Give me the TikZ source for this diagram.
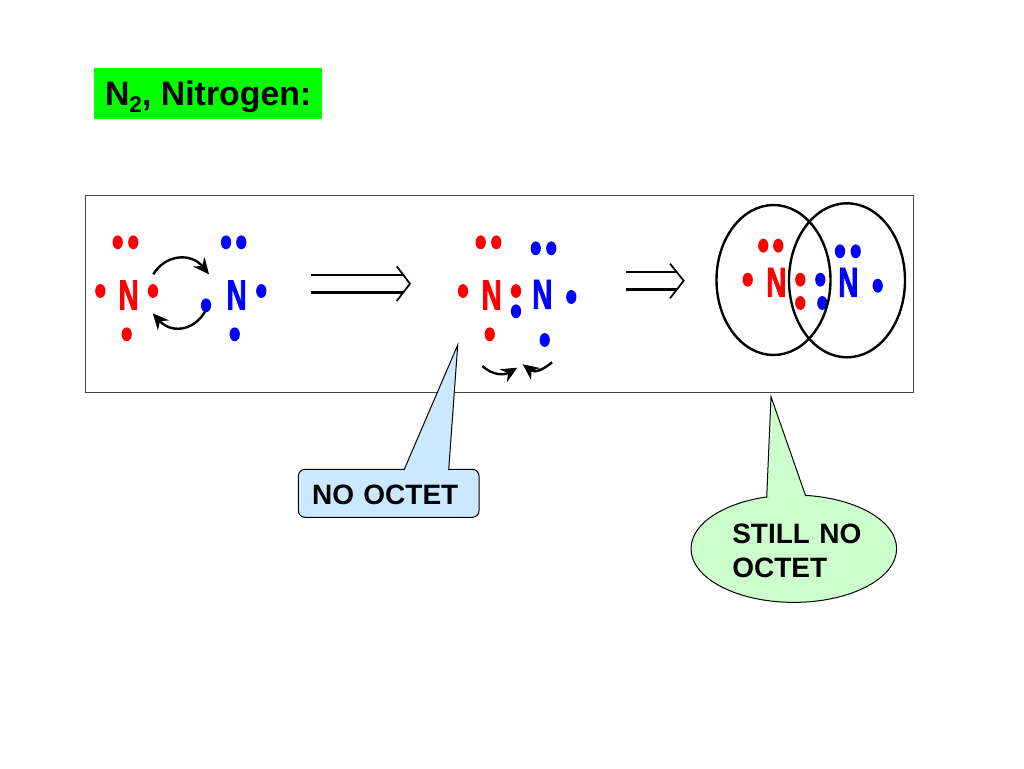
\documentclass[tikz,border=0pt]{standalone}
\usepackage{fontspec}
\setmainfont{Liberation Sans}
\newfontfamily\atomfont[FakeStretch=0.66,FakeBold=1.6]{Liberation Sans Bold}
\usepackage{xcolor}
\usetikzlibrary{arrows.meta,shapes.geometric}
\definecolor{noteblue}{HTML}{CCE8FF}
\definecolor{notegreen}{HTML}{CCFFCC}
\begin{document}
\begin{tikzpicture}[x=0.75pt,y=-0.75pt,
  rdot/.style={ellipse,fill=red,inner sep=0pt,outer sep=0pt,minimum width=7.7pt,minimum height=10.4pt},
  bdot/.style={ellipse,fill=blue,inner sep=0pt,outer sep=0pt,minimum width=7.7pt,minimum height=10.4pt},
  atom/.style={inner sep=0pt,font=\atomfont\fontsize{31.5}{31.5}\selectfont},
  note/.style={font=\bfseries\fontsize{21}{25.5}\selectfont,text=black,inner sep=0pt,align=left},
  shell/.style={ellipse,draw,line width=1.8pt,inner sep=0pt},
  arr/.style={-{Stealth[length=12pt,width=11pt]},line width=1.8pt},
  impl/.style={line width=1.8pt},
  barb/.style={line width=1.3pt},
  edge/.style={line width=0.75pt}]
  \useasboundingbox (0,0) rectangle (1024,768);
  \node[rectangle,fill=green,minimum width=171.3pt,minimum height=38.3pt,inner sep=0pt,
    text height=17.8pt,text depth=0pt,
    font=\bfseries\fontsize{25.4}{25.4}\selectfont](title) at (208.2,93.8)
    {N\raisebox{-0.21em}{\fontsize{17}{17}\selectfont 2}, Nitrogen:};
  \node[rectangle,draw=black!72,line width=0.75pt,minimum width=621pt,minimum height=147.75pt,inner sep=0pt](frame) at (499,293.5){};
  % first pair
  \node[atom,text=red](na) at (128.7,295){N};
  \node[atom,text=blue](nb) at (236.7,295){N};
  \foreach \i/\x/\y in {1/117.7/242.3,2/133.3/242.3,3/100.3/291,4/153/291,5/126.7/334.3}
    \node[rdot](ra\i) at (\x,\y){};
  \foreach \i/\x/\y in {1/226/242.3,2/241.3/242.3,3/261.3/291,4/206/305.3,5/234.7/334.3}
    \node[bdot](ba\i) at (\x,\y){};
  \coordinate (s1) at (153.3,274.3);
  \coordinate (e1) at (209,274.3);
  \coordinate (s2) at (205,311.7);
  \coordinate (e2) at (152.7,313.3);
  \draw[arr](s1) .. controls +(12,-20) and +(-18,-22) .. (e1);
  \draw[arr](s2) .. controls +(-12,20) and +(18,20) .. (e2);
  % long implies
  \coordinate (p1) at (310.7,275);
  \coordinate (q1) at (403.4,275);
  \coordinate (p2) at (310.7,292.3);
  \coordinate (q2) at (403.4,292.3);
  \coordinate (t1) at (396.7,266.3);
  \coordinate (t2) at (410,283.7);
  \coordinate (t3) at (396.7,301);
  \draw[impl](p1)--(q1);\draw[impl](p2)--(q2);
  \draw[barb](t1)--(t2)--(t3);
  % second pair
  \node[atom,text=red](nc) at (491.7,295){N};
  \node[atom,text=blue](nd) at (542.3,294.3){N};
  \foreach \i/\x/\y in {1/480.7/242.3,2/496.3/242.3,3/463/291,4/516/291,5/489.7/334.3}
    \node[rdot](rb\i) at (\x,\y){};
  \foreach \i/\x/\y in {1/535.7/248.3,2/551.3/248.3,3/571.3/297,4/516/311.3,5/544.7/340}
    \node[bdot](bb\i) at (\x,\y){};
  \coordinate (s3) at (482.3,366);
  \coordinate (e3) at (517.3,367.7);
  \coordinate (s4) at (552,362.3);
  \coordinate (e4) at (522.7,364.3);
  \draw[arr](s3) .. controls +(10,9) and +(-14,8) .. (e3);
  \draw[arr](s4) .. controls +(-8,7) and +(12,9) .. (e4);
  % short implies
  \coordinate (p3) at (626,272);
  \coordinate (q3) at (677,272);
  \coordinate (p4) at (626,289.3);
  \coordinate (q4) at (677,289.3);
  \coordinate (t4) at (670,263.7);
  \coordinate (t5) at (683.7,280.7);
  \coordinate (t6) at (670,298.3);
  \draw[impl](p3)--(q3);\draw[impl](p4)--(q4);
  \draw[barb](t4)--(t5)--(t6);
  % bonded pair
  \node[atom,text=red](ne) at (776.3,282.3){N};
  \node[atom,text=blue](nf) at (848.3,282.3){N};
  \foreach \i/\x/\y in {1/763.3/245.7,2/778.3/245.7,3/747.7/279.7,4/800.3/279.7,5/800.3/303}
    \node[rdot](rc\i) at (\x,\y){};
  \foreach \i/\x/\y in {1/840/251.3,2/855.7/251.3,3/877.7/285.7,4/820.3/279.7,5/822.3/303}
    \node[bdot](bc\i) at (\x,\y){};
  \node[shell,minimum width=85.5pt,minimum height=112.5pt](ringa) at (773.5,280){};
  \node[shell,minimum width=87pt,minimum height=115.5pt](ringb) at (847,280.3){};
  % callouts
  \node[rectangle,draw,fill=noteblue,edge,rounded corners=5pt,minimum width=135.5pt,minimum height=36pt,note,
    text width=114.9pt,text height=16.5pt,text depth=0pt](octa) at (388.7,493.3){NO OCTET};
  \coordinate (tipa) at (457.7,345);
  \coordinate (la) at (404,470);
  \coordinate (ra) at (448.7,470);
  \fill[noteblue](la)--(tipa)--(ra)--cycle;
  \draw[edge](la)--(tipa)--(ra);
  \node[ellipse,draw,fill=notegreen,edge,minimum width=154.2pt,minimum height=80.5pt,inner sep=0pt](octb) at (793.8,548.7){};
  \node[note,text width=110pt](octbtext) at (805.6,550.7){STILL NO\\OCTET};
  \coordinate (tipb) at (771,396.7);
  \coordinate (lb) at (766.7,497.5);
  \coordinate (rb) at (805.7,496);
  \fill[notegreen](lb)--(tipb)--(rb)--cycle;
  \draw[edge](lb)--(tipb)--(rb);
\end{tikzpicture}
\end{document}
